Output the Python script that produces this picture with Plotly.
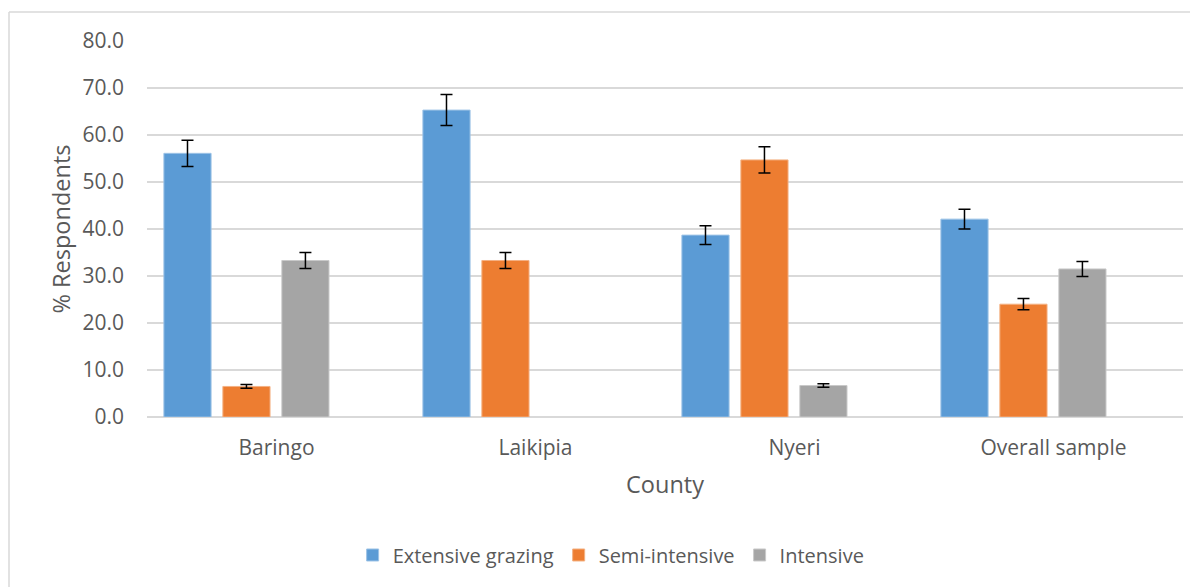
import plotly.graph_objects as go

categories = ["Baringo", "Laikipia", "Nyeri", "Overall sample"]
series_names = ["Extensive grazing", "Semi-intensive", "Intensive"]
extensive = [56.1, 65.3, 38.7, 42.1]
extensive_err = [2.8, 3.3, 2.0, 2.1]
semi = [6.5, 33.3, 54.7, 24.0]
semi_err = [0.4, 1.7, 2.8, 1.2]
intensive = [33.3, 0.0, 6.7, 31.5]
intensive_err = [1.7, 0.0, 0.35, 1.6]
y_ticks = [0, 10, 20, 30, 40, 50, 60, 70, 80]

colors = ["#5B9BD5", "#ED7D31", "#A5A5A5"]
edge = ["#9DC3E6", "#F4B183", "#C9C9C9"]
values = [extensive, semi, intensive]
errors = [extensive_err, semi_err, intensive_err]

FONT = "Open Sans, DejaVu Sans, sans-serif"
TXT = "#595959"

fig = go.Figure()
for name, v, e, c, ec in zip(series_names, values, errors, colors, edge):
    # zero-valued cells are drawn as empty (no bar, no error bar), like the original
    yv = [val if val != 0 else None for val in v]
    fig.add_trace(go.Bar(
        x=categories, y=yv, name=name,
        marker=dict(color=c, line=dict(color=ec, width=1)),
        error_y=dict(type="data", array=e, visible=True, color="black",
                     thickness=1.5, width=6),
    ))

# invisible trace to anchor the label axis
fig.add_trace(go.Scatter(x=list(range(len(categories))), y=[0] * len(categories),
                         xaxis="x2", mode="markers", marker=dict(opacity=0),
                         showlegend=False, hoverinfo="skip"))

fig.update_layout(
    width=1190, height=579,
    margin=dict(l=139, r=15, t=33, b=170, autoexpand=False),
    paper_bgcolor="white", plot_bgcolor="white",
    barmode="group", bargap=0.317, bargroupgap=0.2,
    font=dict(family=FONT, color=TXT, size=21),
    xaxis=dict(type="category", categoryorder="array", categoryarray=categories,
               range=[-0.384, 3.616], showticklabels=False, showgrid=False,
               zeroline=False, showline=False, ticks="", automargin=False),
    xaxis2=dict(overlaying="x", side="bottom", anchor="y", range=[-0.5, 3.5],
                tickmode="array", tickvals=list(range(len(categories))),
                ticktext=categories, showgrid=False, zeroline=False,
                showline=False, ticks="", tickfont=dict(size=21, color=TXT),
                ticklabelstandoff=16, automargin=False,
                title=dict(text="County", font=dict(size=23.5, color=TXT), standoff=16)),
    yaxis=dict(range=[0, 80], tickmode="array", tickvals=y_ticks,
               ticktext=[f"{t:.1f}" for t in y_ticks],
               showgrid=True, gridcolor="#D9D9D9", gridwidth=1.5,
               zeroline=True, zerolinecolor="#D9D9D9", zerolinewidth=1.5,
               showline=False, ticks="", ticklabelstandoff=22, automargin=False,
               tickfont=dict(size=21, color=TXT),
               title=dict(text="% Respondents", font=dict(size=23.5, color=TXT), standoff=5)),
    legend=dict(orientation="h", x=0.448, xanchor="center", y=-0.367, yanchor="middle",
                font=dict(size=20, color=TXT), itemwidth=30, traceorder="normal"),
    shapes=[
        dict(type="line", xref="paper", yref="paper", x0=-0.1332, x1=1.02,
             y0=1.0771, y1=1.0771, line=dict(color="#D9D9D9", width=1.5)),
        dict(type="line", xref="paper", yref="paper", x0=-0.1332, x1=-0.1332,
             y0=1.0771, y1=-0.46, line=dict(color="#D9D9D9", width=1.5)),
    ],
)

fig.write_html("out.html")
